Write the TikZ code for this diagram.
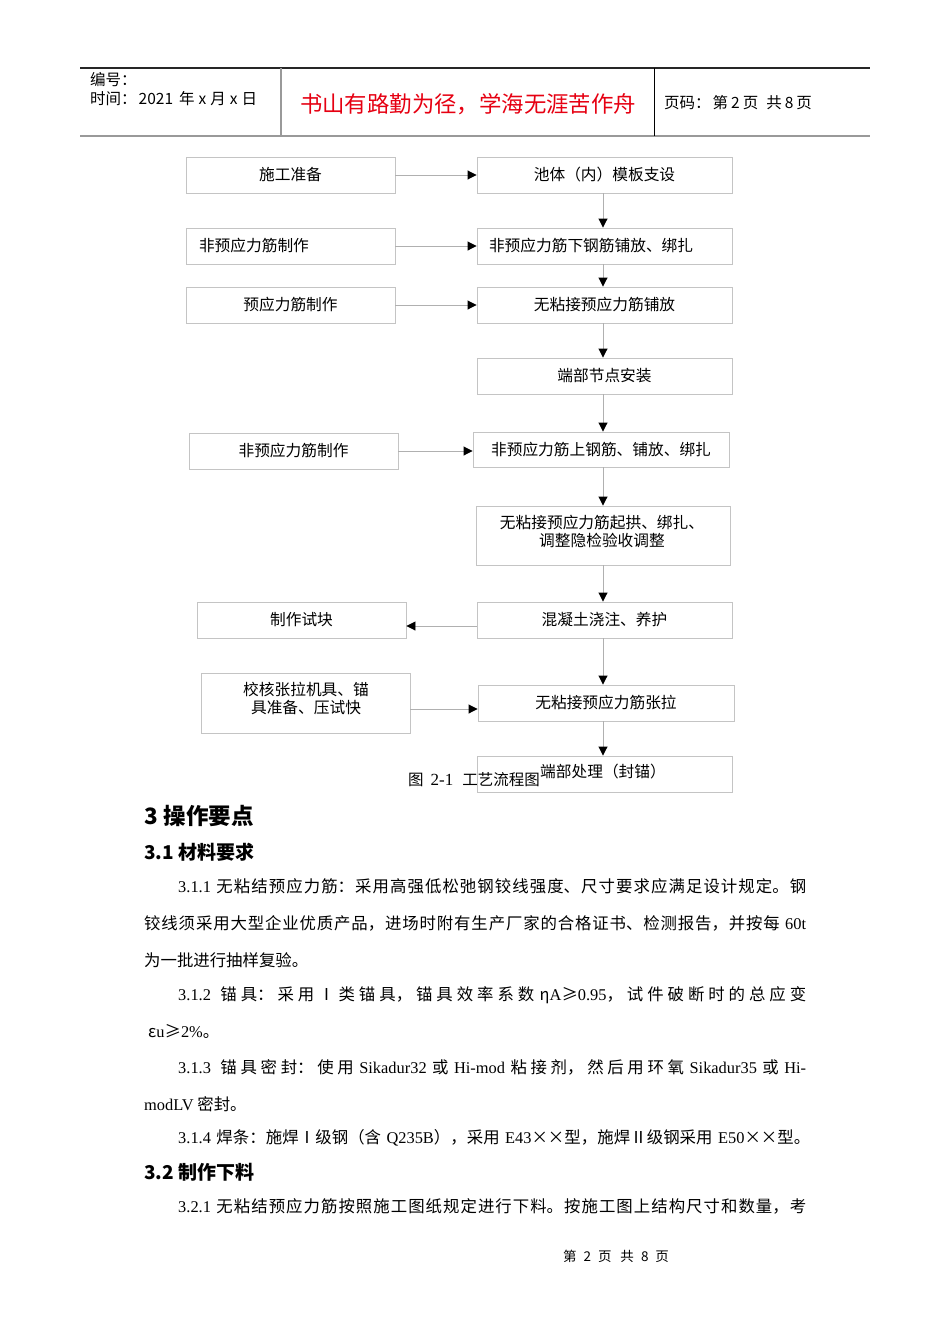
\documentclass[tikz,border=0pt]{standalone}
\usepackage{fontspec}
\setmainfont{Noto Sans CJK SC}
\newfontfamily\lat{Liberation Serif}
\usetikzlibrary{arrows.meta,calc}
\XeTeXlinebreaklocale "zh"
\XeTeXlinebreakskip=0pt plus 3pt
\definecolor{boxgray}{HTML}{C4C4C4}
\definecolor{linegray}{HTML}{B0B0B0}
\definecolor{titlered}{HTML}{E60012}
\newcommand\J{\parfillskip=0pt\relax\tolerance=10000\relax\hbadness=10000\relax\rightskip=0pt\relax\leftskip=0pt\relax}
\newcommand\JE{\par}
\tikzset{
  bx/.style={draw=boxgray, line width=0.9pt, minimum height=36pt, inner sep=0pt,
    font=\fontsize{15.7}{18}\selectfont},
  boxtext/.style={inner sep=0pt, align=center, font=\fontsize{15.7}{18}\selectfont},
  arr/.style={draw=linegray, line width=0.9pt, -{Triangle[length=9pt,width=9pt,color=black]}},
  hdr/.style={anchor=west, inner sep=0pt, font=\fontsize{15.5}{18}\selectfont},
  body/.style={anchor=west, inner sep=0pt, font=\fontsize{16.4}{18}\selectfont},
  jl/.style={body, text width=#1},
  hone/.style={anchor=west, inner sep=0pt, font=\fontsize{22.5}{24}\selectfont\bfseries},
  htwo/.style={anchor=west, inner sep=0pt, font=\fontsize{19}{22}\selectfont\bfseries},
}
\begin{document}
\begin{tikzpicture}[x=1pt,y=-1pt]
\fill[white] (0,0) rectangle (950,1344);
\useasboundingbox (0,0) rectangle (950,1344);

% ---------- header ----------
\coordinate (h1) at (80,68);
\coordinate (h2) at (870,68);
\coordinate (h3) at (80,136);
\coordinate (h4) at (870,136);
\coordinate (v1t) at (281,68);
\coordinate (v1b) at (281,136);
\coordinate (v2t) at (654,68);
\coordinate (v2b) at (654,136);
\draw[draw=black!85, line width=1.2pt] (h1) -- (h2);
\draw[draw=black!40, line width=2.2pt] (h3) -- (h4);
\draw[draw=black!40, line width=2pt] (v1t) -- (v1b);
\draw[draw=black, line width=1pt] (v2t) -- (v2b);

\node[hdr] (num) at (90,80) {编号：};
\node[hdr] (time) at (90,99) {时间：\hspace{2pt}2021\hspace{6pt}年\hspace{4pt}x\hspace{4pt}月\hspace{4pt}x\hspace{4pt}日};
\node[inner sep=0pt, font=\fontsize{22.4}{26}\selectfont, text=titlered] (title) at (468,104) {书山有路勤为径，学海无涯苦作舟};
\node[hdr] (pg) at (664,103) {页码：\hspace{2pt}第\hspace{3pt}2\hspace{3pt}页\hspace{8pt}共\hspace{3pt}8\hspace{3pt}页};

% ---------- flow chart ----------
\node[bx, minimum width=209pt] (A) at (290.5,175) {施工准备};
\node[bx, minimum width=255pt] (B) at (604.5,175) {池体（内）模板支设};
\node[bx, minimum width=209pt, text width=183pt, align=left] (C) at (290.5,246) {非预应力筋制作};
\node[bx, minimum width=255pt, text width=231pt, align=left] (D) at (604.5,246) {非预应力筋下钢筋铺放、绑扎};
\node[bx, minimum width=209pt] (E) at (290.5,305) {预应力筋制作};
\node[bx, minimum width=255pt] (F) at (604.5,305) {无粘接预应力筋铺放};
\node[bx, minimum width=255pt] (G) at (604.5,376) {端部节点安装};
\node[bx, minimum width=209pt] (H) at (293.5,451) {非预应力筋制作};
\node[bx, minimum width=256pt, minimum height=35pt] (I) at (601,449.5) {非预应力筋上钢筋、铺放、绑扎};
\node[bx, minimum width=254pt, minimum height=59pt] (J) at (603,535.5) {};
\node[boxtext] (Jt) at (602,531) {无粘接预应力筋起拱、绑扎、\\调整隐检验收调整};
\node[bx, minimum width=209pt] (K) at (301.5,620) {制作试块};
\node[bx, minimum width=255pt] (L) at (604.5,620) {混凝土浇注、养护};
\node[bx, minimum width=209pt, minimum height=60pt] (M) at (305.5,703) {};
\node[boxtext] (Mt) at (306,699) {校核张拉机具、锚\\具准备、压试快};
\node[bx, minimum width=256pt] (N) at (606,703) {无粘接预应力筋张拉};
\node[bx, minimum width=255pt] (O) at (604.5,774) {};
\node[boxtext] (Ot) at (603,772) {端部处理（封锚）};
\node[anchor=west, inner sep=0pt, font=\fontsize{15.5}{18}\selectfont] (cap) at (408,780)
  {图\hspace{7pt}{\lat\fontsize{17}{18}\selectfont 2-1}\hspace{9pt}工艺流程图};

\coordinate (vx) at (603,0);
\draw[arr] (A.east) -- (B.west);
\draw[arr] (C.east) -- (D.west);
\draw[arr] (E.east) -- (F.west);
\draw[arr] (H.east) -- (H.east -| I.west);
\draw[arr] ($(L.west)+(0,6)$) -- ($(K.east)+(0,6)$);
\draw[arr] ($(M.east)+(0,6)$) -- ($(N.west)+(0,6)$);
\draw[arr] (B.south -| vx) -- (D.north -| vx);
\draw[arr] (D.south -| vx) -- (F.north -| vx);
\draw[arr] (F.south -| vx) -- (G.north -| vx);
\draw[arr] (G.south -| vx) -- (I.north -| vx);
\draw[arr] (I.south -| vx) -- (J.north -| vx);
\draw[arr] (J.south -| vx) -- (L.north -| vx);
\draw[arr] (L.south -| vx) -- (N.north -| vx);
\draw[arr] (N.south -| vx) -- (O.north -| vx);

% ---------- body text ----------
\node[hone] (s3) at (144,816) {3\hspace{6pt}操作要点};
\node[htwo] (s31) at (144,852) {3.1\hspace{4pt}材料要求};
\node[jl=628pt] (l1) at (178,886) {\J{\lat 3.1.1} 无粘结预应力筋：采用高强低松弛钢铰线强度、尺寸要求应满足设计规定。钢\JE};
\node[jl=662pt] (l2) at (144,923) {\J 铰线须采用大型企业优质产品，进场时附有生产厂家的合格证书、检测报告，并按每 {\lat 60t}\JE};
\node[body] (l3) at (144,960) {为一批进行抽样复验。};
\node[jl=628pt] (l4) at (178,995) {\J{\lat 3.1.2}\hspace{4pt} 锚具：采用Ⅰ类锚具，锚具效率系数 η{\lat A}≥{\lat 0.95}，试件破断时的总应变\JE};
\node[body] (l5) at (148,1031) {ε{\lat u}≥{\lat 2\%}。};
\node[jl=628pt] (l6) at (178,1067) {\J{\lat 3.1.3}\hspace{4pt} 锚具密封：使用 {\lat Sikadur32} 或 {\lat Hi-mod} 粘接剂，然后用环氧 {\lat Sikadur35} 或 {\lat Hi-}\JE};
\node[body] (l7) at (144,1104) {{\lat modLV} 密封。};
\node[jl=632pt] (l8) at (178,1138) {\J{\lat 3.1.4} 焊条：施焊Ⅰ级钢（含 {\lat Q235B}），采用 {\lat E43}××型，施焊Ⅱ级钢采用 {\lat E50}××型。\JE};
\node[htwo] (s32) at (144,1172) {3.2\hspace{4pt}制作下料};
\node[jl=628pt] (l9) at (178,1206) {\J{\lat 3.2.1} 无粘结预应力筋按照施工图纸规定进行下料。按施工图上结构尺寸和数量，考\JE};

% ---------- footer ----------
\node[inner sep=0pt, font=\fontsize{13.5}{16}\selectfont] (foot) at (616,1256)
  {第\hspace{7pt}2\hspace{7pt}页\hspace{9pt}共\hspace{7pt}8\hspace{7pt}页};
\end{tikzpicture}
\end{document}
